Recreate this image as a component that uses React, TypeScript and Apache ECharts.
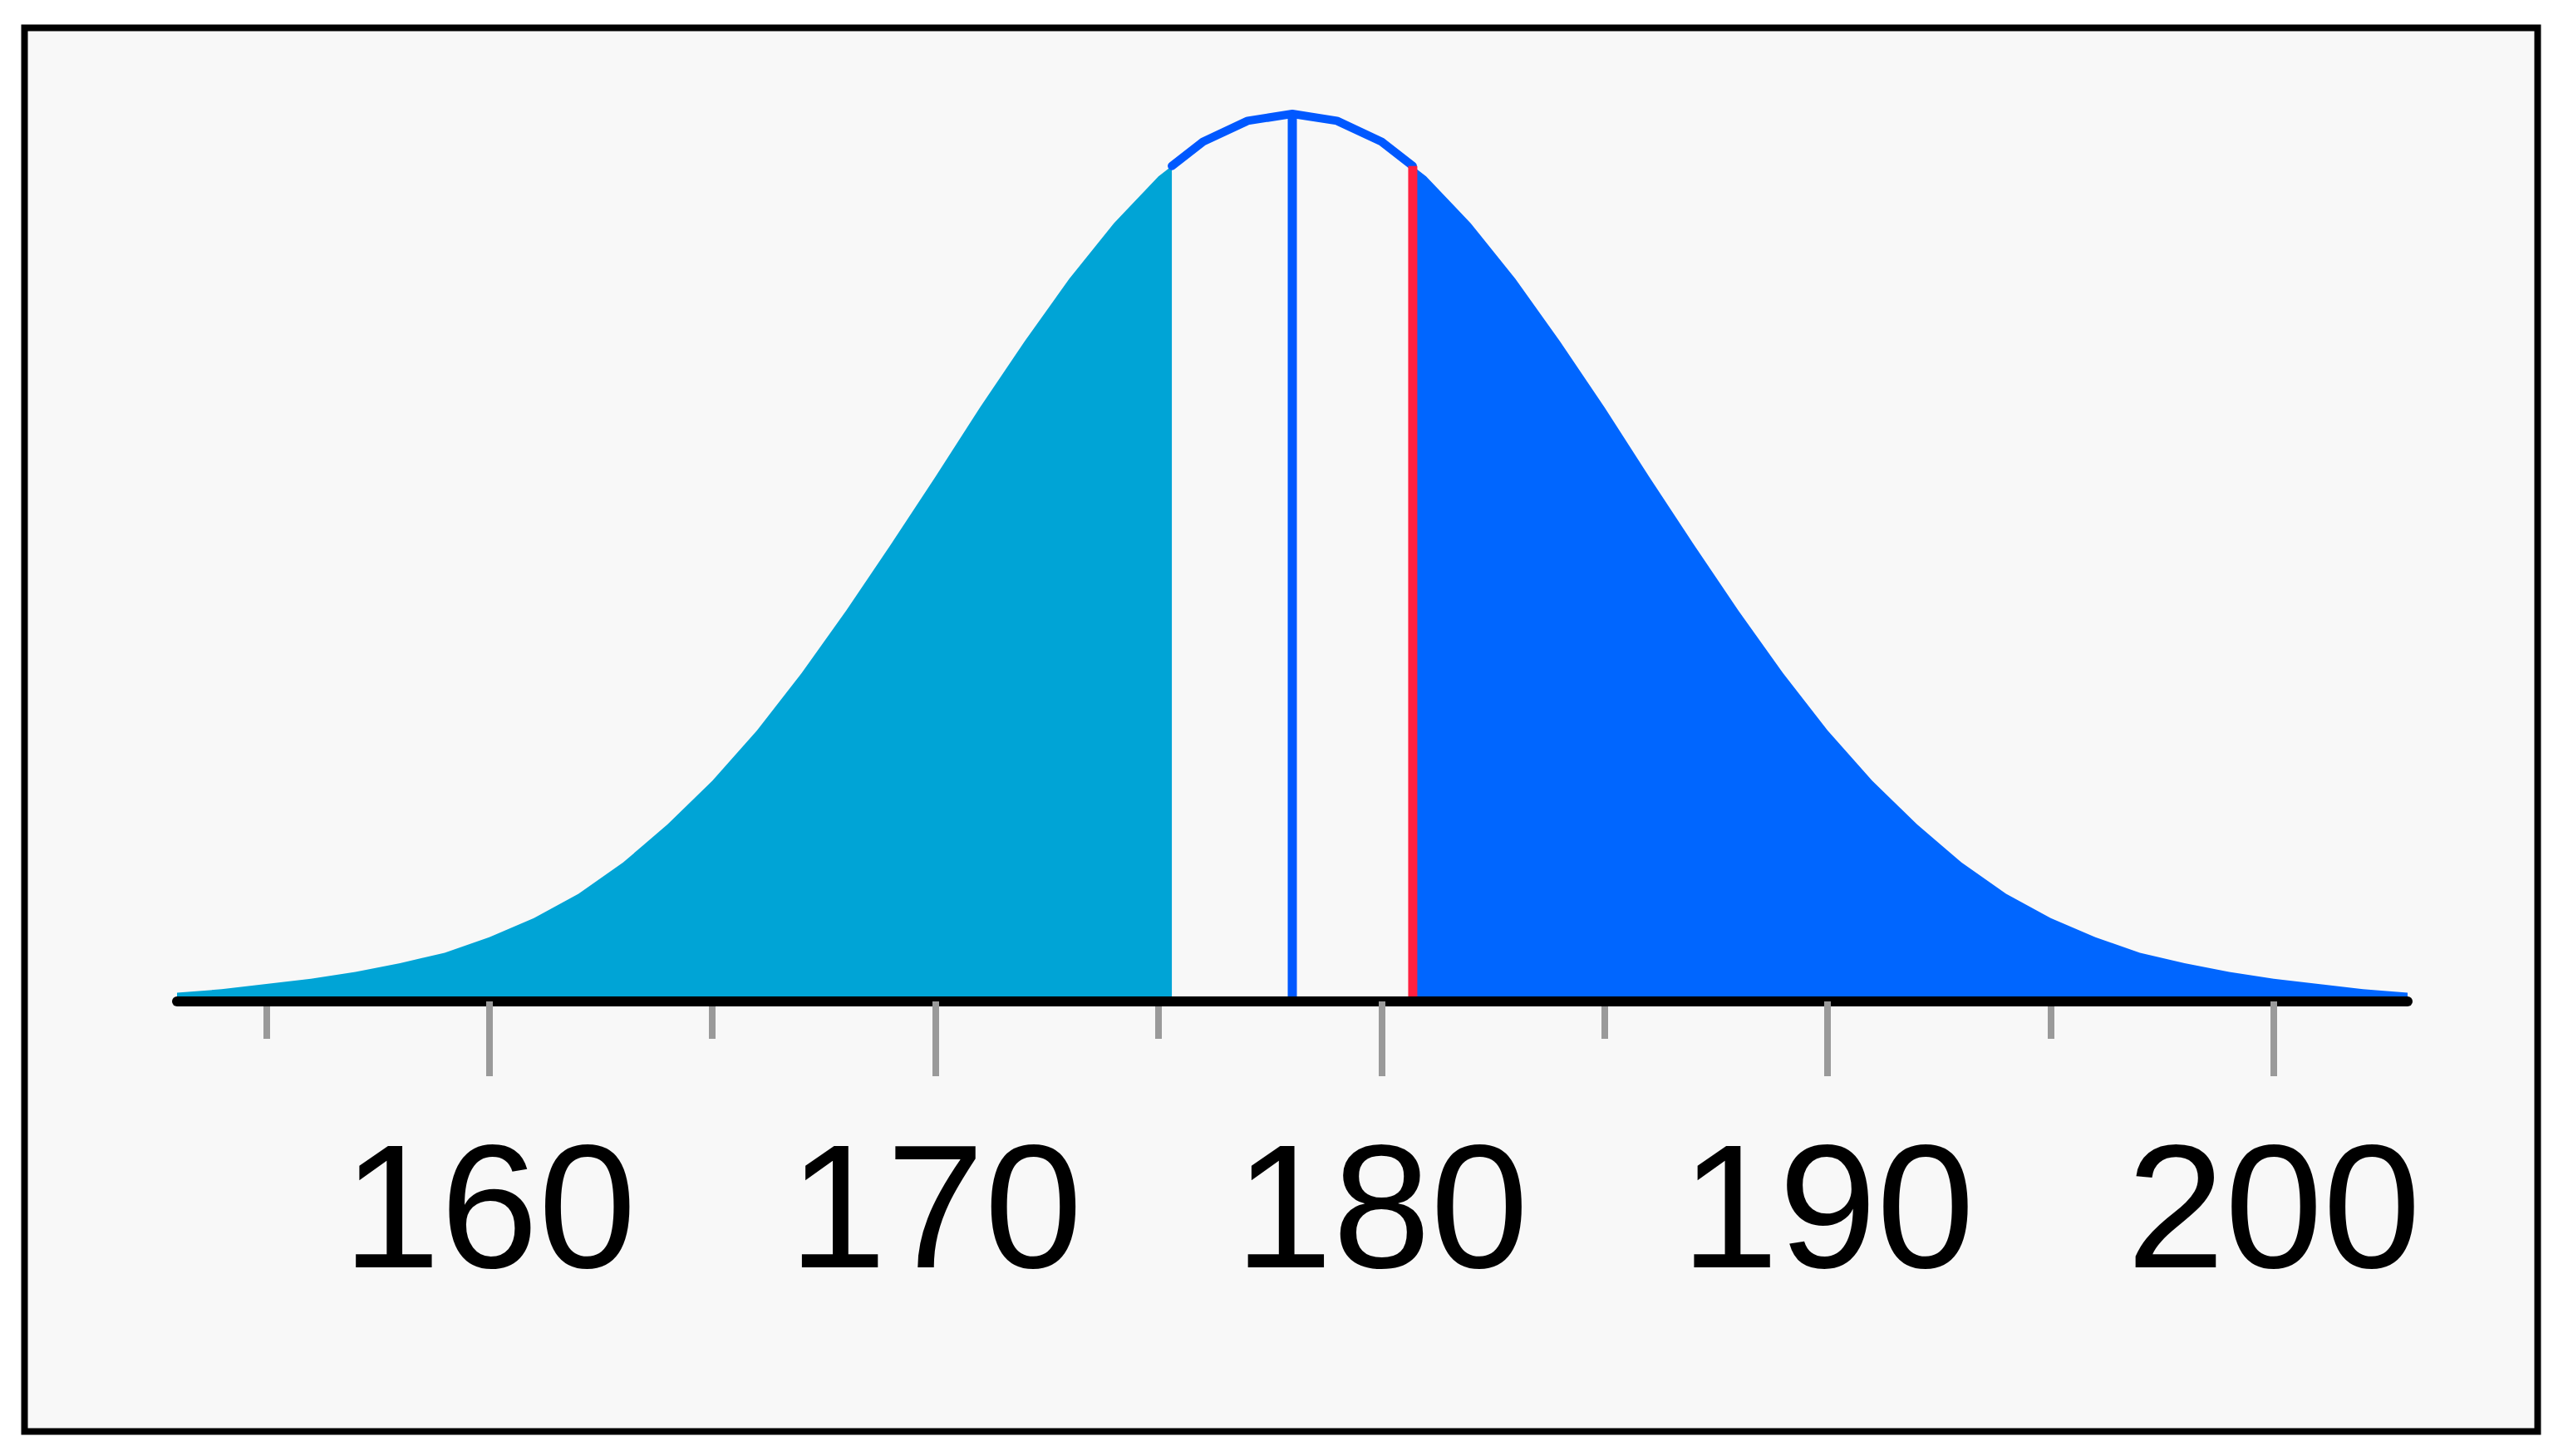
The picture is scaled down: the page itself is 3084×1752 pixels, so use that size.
import React, { useEffect, useRef } from "react";
import * as echarts from "echarts";

// Height values (cm) sampled along the curve
const HEIGHTS = [
  153, 154, 155, 156, 157, 158, 159, 160, 161, 162, 163, 164, 165, 166, 167, 168, 169,
  170, 171, 172, 173, 174, 175, 176, 177, 178, 179, 180, 181, 182, 183, 184, 185, 186,
  187, 188, 189, 190, 191, 192, 193, 194, 195, 196, 197, 198, 199, 200, 201, 202, 203,
];
// Density (%) at each height
const DENSITY = [
  0.05, 0.07, 0.10, 0.13, 0.17, 0.22, 0.28, 0.37, 0.48, 0.62, 0.80, 1.02, 1.27, 1.56, 1.89, 2.25, 2.63,
  3.02, 3.42, 3.80, 4.16, 4.48, 4.75, 4.95, 5.07, 5.11, 5.07, 4.95, 4.75, 4.48, 4.16, 3.80, 3.42, 3.02,
  2.63, 2.25, 1.89, 1.56, 1.27, 1.02, 0.80, 0.62, 0.48, 0.37, 0.28, 0.22, 0.17, 0.13, 0.10, 0.07, 0.05,
];

const MEAN = 178;
const MEAN_DENSITY = 5.11;
const LOWER_CUT = 175.3;
const LOWER_CUT_DENSITY = 4.81;
const UPPER_CUT = 180.7;
const UPPER_CUT_DENSITY = 4.81;

const X_MIN = 153;
const X_MAX = 203;
const MAJOR_TICKS = [160, 170, 180, 190, 200];
const MINOR_TICKS = [155, 165, 175, 185, 195];

export default function App() {
  const ref = useRef<HTMLDivElement>(null);

  useEffect(() => {
    if (!ref.current) return;
    document.body.style.margin = "0";
    const chart = echarts.init(ref.current, undefined, { renderer: "svg" });

    const pts = HEIGHTS.map((h, i) => [h, DENSITY[i]]);
    const leftData = pts.filter((p) => p[0] < LOWER_CUT).concat([[LOWER_CUT, LOWER_CUT_DENSITY]]);
    const midData = [[LOWER_CUT, LOWER_CUT_DENSITY]]
      .concat(pts.filter((p) => p[0] > LOWER_CUT && p[0] < UPPER_CUT))
      .concat([[UPPER_CUT, UPPER_CUT_DENSITY]]);
    const rightData = [[UPPER_CUT, UPPER_CUT_DENSITY]].concat(pts.filter((p) => p[0] > UPPER_CUT));

    const font = "'Liberation Sans', Arial, Helvetica, sans-serif";
    const tickColor = "#9a9a9a";

    chart.setOption({
      animation: false,
      backgroundColor: "#ffffff",
      graphic: [
        {
          type: "rect",
          z: 0,
          shape: { x: 29.5, y: 33.5, width: 3024, height: 1689 },
          style: { fill: "#f8f8f8", stroke: "#000000", lineWidth: 8 },
        },
      ],
      grid: { left: 213, right: 187, top: 137, bottom: 547, containLabel: false, outerBoundsMode: "none" },
      xAxis: [
        {
          type: "value",
          min: X_MIN,
          max: X_MAX,
          position: "bottom",
          z: 10,
          axisLine: { show: true, onZero: false, lineStyle: { color: "#000000", width: 12, cap: "round" } },
          axisTick: { show: true, customValues: MAJOR_TICKS, length: 90, lineStyle: { color: tickColor, width: 8 } },
          axisLabel: {
            show: true,
            customValues: MAJOR_TICKS,
            fontSize: 212,
            color: "#000000",
            fontFamily: font,
            margin: 140,
          },
          splitLine: { show: false },
        },
        {
          type: "value",
          min: X_MIN,
          max: X_MAX,
          position: "bottom",
          offset: 0,
          z: 9,
          axisLine: { show: false, onZero: false },
          axisTick: { show: true, customValues: MINOR_TICKS, length: 45, lineStyle: { color: tickColor, width: 8 } },
          axisLabel: { show: false },
          splitLine: { show: false },
        },
      ],
      yAxis: { type: "value", min: 0, max: MEAN_DENSITY, show: false },
      series: [
        {
          type: "line",
          name: "lower",
          data: leftData,
          showSymbol: false,
          symbol: "none",
          lineStyle: { width: 0 },
          areaStyle: { color: "#00a4d6", opacity: 1 },
          z: 2,
        },
        {
          type: "line",
          name: "upper",
          data: rightData,
          showSymbol: false,
          symbol: "none",
          lineStyle: { width: 0 },
          areaStyle: { color: "#0066ff", opacity: 1 },
          z: 2,
        },
        {
          type: "line",
          name: "middle",
          data: midData,
          showSymbol: false,
          symbol: "none",
          lineStyle: { width: 10, color: "#0058ff", join: "round", cap: "round" },
          z: 3,
        },
        {
          type: "line",
          name: "mean",
          data: [
            [MEAN, 0],
            [MEAN, MEAN_DENSITY],
          ],
          showSymbol: false,
          symbol: "none",
          lineStyle: { width: 11, color: "#0058ff" },
          z: 4,
        },
        {
          type: "line",
          name: "value",
          data: [
            [UPPER_CUT, 0],
            [UPPER_CUT, UPPER_CUT_DENSITY],
          ],
          showSymbol: false,
          symbol: "none",
          lineStyle: { width: 11, color: "#ff2040" },
          z: 4,
        },
      ],
    });

    return () => chart.dispose();
  }, []);

  return <div ref={ref} style={{ position: "fixed", left: 0, top: 0, width: 3084, height: 1752 }} />;
}
